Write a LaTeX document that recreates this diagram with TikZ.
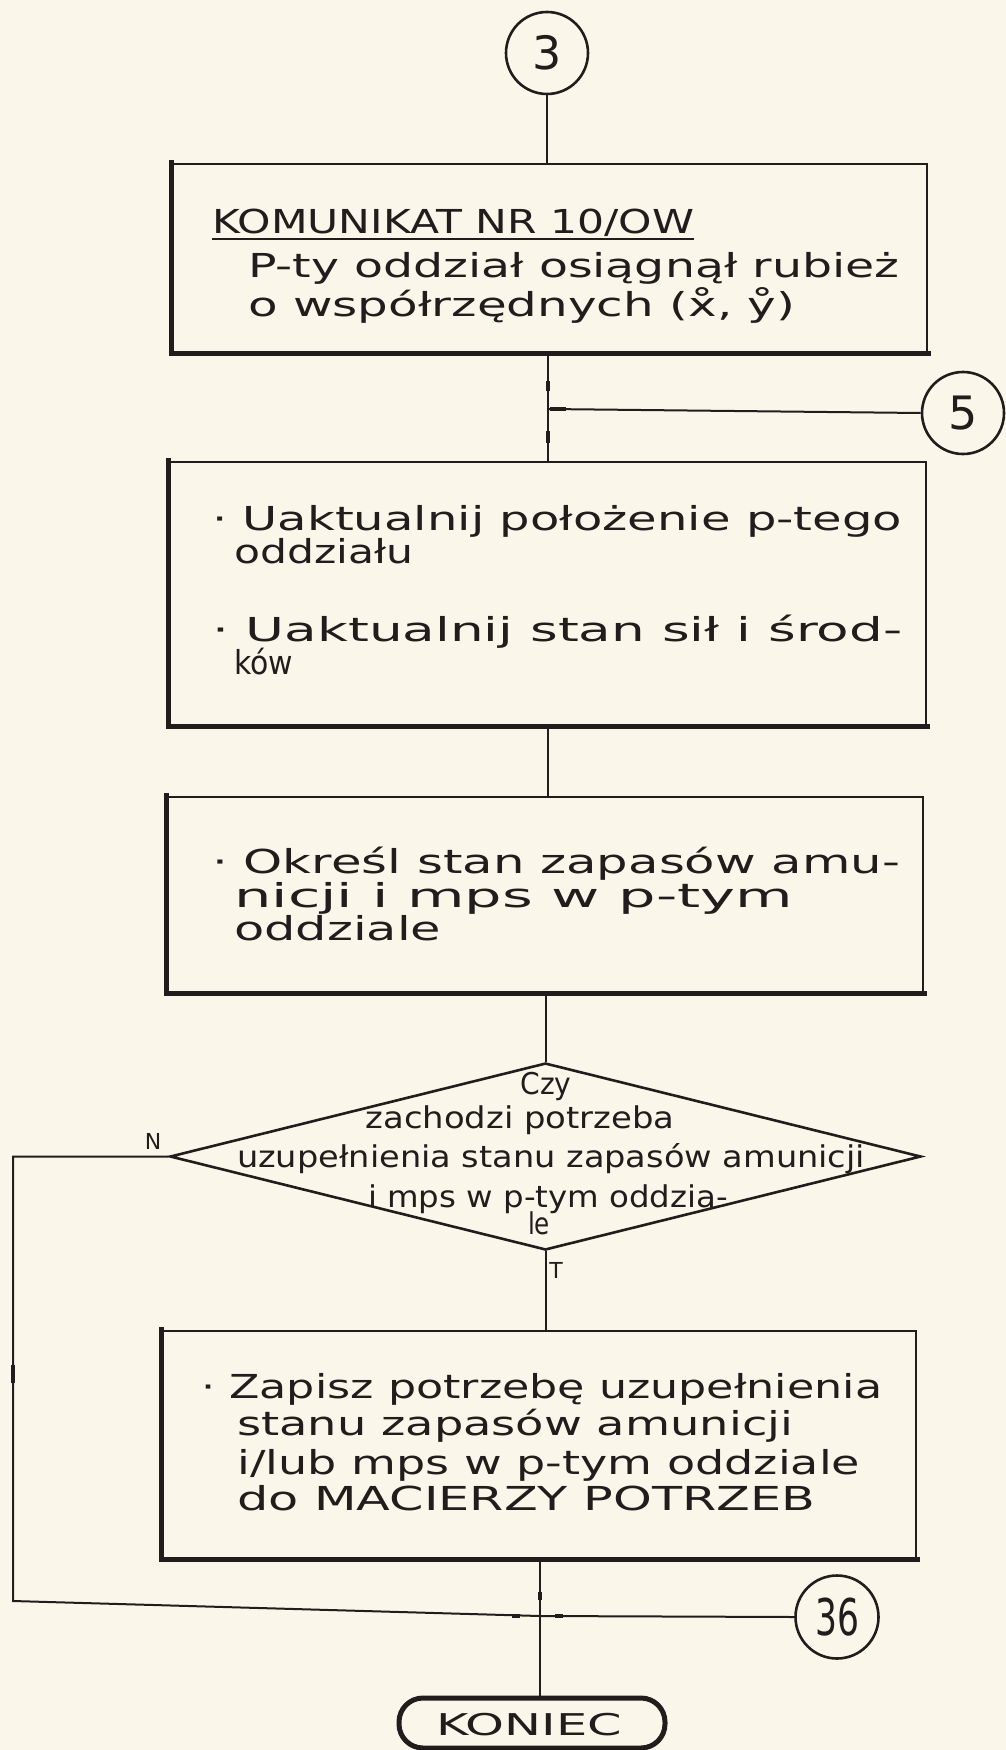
\documentclass[tikz,border=0pt]{standalone}
\usepackage{fontspec}
\usepackage{graphicx}
\setmainfont{DejaVu Sans}
\usetikzlibrary{shapes.geometric}
\definecolor{paper}{RGB}{250,247,234}
\definecolor{ink}{RGB}{34,28,28}
% handwriting-like text: fixed height, each line stretched sideways to its width
\newcommand{\hwfont}{\fontsize{33}{37}\selectfont}
\newcommand{\numfont}{\fontsize{46}{50}\selectfont}
\newlength{\hwlen}
\newcommand{\hw}[2]{\settowidth{\hwlen}{#2}\scalebox{\fpeval{#1/\hwlen}}[1]{#2}}
\tikzset{
  conn/.style={draw=ink, line width=2pt},
  box/.style={rectangle, draw=ink, line width=2.6pt, inner sep=0pt},
  heavy/.style={draw=ink, line width=5pt, line cap=rect},
  tick/.style={draw=ink, line width=4pt},
  txt/.style={anchor=base west, inner sep=0pt, text=ink, font=\hwfont},
  ctxt/.style={anchor=base, inner sep=0pt, text=ink, font=\hwfont},
  conncirc/.style={circle, draw=ink, line width=2.6pt, minimum size=82pt,
    inner sep=0pt, text=ink, font=\numfont},
  lbl/.style={inner sep=0pt, text=ink, font=\fontsize{22}{24}\selectfont},
}
\begin{document}
\begin{tikzpicture}[x=1pt,y=-1pt]
\useasboundingbox (0,0) rectangle (1006,1750);
\fill[paper] (0,0) rectangle (1006,1750);

% connectors (circles)
\node[conncirc] (c3) at (547,53) {3};
\node[conncirc] (c5) at (963,413) {5};
\node[conncirc, minimum size=83pt] (c36) at (837,1617) {\scalebox{0.75}[1.1]{36}};

% process boxes
\node[box, minimum width=754pt, minimum height=188pt] (b1) at (550,258) {};
\node[box, minimum width=756pt, minimum height=263pt] (b2) at (548,593.5) {};
\node[box, minimum width=755pt, minimum height=195pt] (b3) at (545.5,894.5) {};
\node[box, minimum width=753pt, minimum height=227pt] (b4) at (539.5,1444.5) {};
\foreach \b in {b1,b2,b3,b4}
  \draw[heavy] (\b.north west) -- (\b.south west) -- (\b.south east);

% decision
\node[diamond, draw=ink, line width=2.6pt, inner sep=0pt,
  minimum width=751pt, minimum height=187pt] (d) at (545.5,1156.5) {};

% terminal
\node[rectangle, rounded corners=24pt, draw=ink, line width=5pt,
  minimum width=266pt, minimum height=50pt, inner sep=0pt] (k) at (532,1723) {};

% junction points
\coordinate (j5) at (548,409);
\coordinate (jl) at (13,1601);
\coordinate (j36) at (540,1616);

% flow lines
\draw[conn] (c3.south) -- (c3.south |- b1.north);
\draw[conn] (b1.south -| j5) -- (b2.north -| j5);
\draw[conn] (c5.west) -- (j5);
\draw[conn] (b2.south) -- (b2.south |- b3.north);
\draw[conn] (b3.south -| d.north) -- (d.north);
\draw[conn] (d.south) -- (d.south |- b4.north);
\draw[conn] (d.west) -- (d.west -| jl) -- (jl) -- (j36) -- (c36.west);
\draw[conn] (b4.south -| j36) -- (k.north -| j36);

% flow marks on the lines
\draw[tick] ([yshift=18pt]j5) -- ([yshift=28pt]j5);
\draw[tick] ([yshift=-22pt]j5) -- ([yshift=-34pt]j5);
\draw[tick] ([xshift=2pt]j5) -- ([xshift=18pt]j5);
\draw[tick] ([xshift=-28pt]j36) -- ([xshift=-20pt]j36);
\draw[tick] ([xshift=15pt]j36) -- ([xshift=23pt]j36);
\draw[tick] ([yshift=16pt]j36) -- ([yshift=24pt]j36);
\draw[tick] ([yshift=236pt]jl) -- ([yshift=218pt]jl);

% labels of the decision exits
\node[lbl] (ln) at (153,1141) {N};
\node[lbl] (lt) at (556,1270) {T};

% box 1
\node[txt] (t11) at (212,233) {\hw{482}{KOMUNIKAT NR 10/OW}};
\draw[conn, line width=1.8pt] ([yshift=-6pt]t11.base west) -- ([yshift=-6pt]t11.base east);
\node[txt] (t12) at (248,277) {\hw{651}{P-ty oddział osiągnął rubież}};
\node[txt] (t13) at (248,316) {\hw{547}{o współrzędnych (x̊, ẙ)}};

% box 2
\node[txt] (t21) at (212,530) {\hw{690}{· Uaktualnij położenie p-tego}};
\node[txt] (t22) at (234,563) {\hw{179}{oddziału}};
\node[txt] (t23) at (212,641) {\hw{690}{· Uaktualnij stan sił i środ-}};
\node[txt] (t24) at (234,674) {\hw{59}{ków}};

% box 3
\node[txt] (t31) at (212,873) {\hw{688}{· Określ stan zapasów amu-}};
\node[txt] (t32) at (234,907) {\hw{559}{nicji i mps w p-tym}};
\node[txt] (t33) at (234,940) {\hw{207}{oddziale}};

% decision text
\node[ctxt, font=\fontsize{30}{34}\selectfont] (q1) at (546,1094) {\hw{51}{Czy}};
\node[ctxt, font=\fontsize{30}{34}\selectfont] (q2) at (520,1128) {\hw{309}{zachodzi potrzeba}};
\node[ctxt, font=\fontsize{30}{34}\selectfont] (q3) at (551,1167) {\hw{628}{uzupełnienia stanu zapasów amunicji}};
\node[ctxt, font=\fontsize{30}{34}\selectfont] (q4) at (548,1207) {\hw{360}{i mps w p-tym oddzia-}};
\node[ctxt, font=\fontsize{30}{34}\selectfont] (q5) at (539,1234) {\hw{22}{le}};

% box 4
\node[txt] (t41) at (201,1398) {\hw{681}{· Zapisz potrzebę uzupełnienia}};
\node[txt] (t42) at (237,1435) {\hw{556}{stanu zapasów amunicji}};
\node[txt] (t43) at (237,1474) {\hw{623}{i/lub mps w p-tym oddziale}};
\node[txt] (t44) at (237,1510) {\hw{578}{do MACIERZY POTRZEB}};

% terminal text
\node[ctxt, font=\fontsize{30}{34}\selectfont] (kt) at (529,1735) {\hw{186}{KONIEC}};
\end{tikzpicture}
\end{document}
